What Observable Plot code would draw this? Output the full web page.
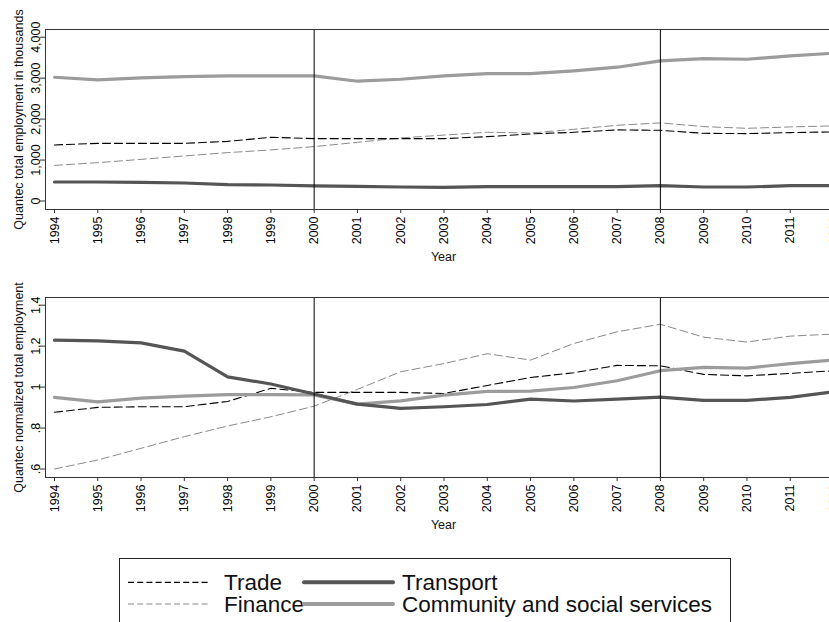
<!DOCTYPE html>
<html>
<head>
<meta charset="utf-8">
<script src="https://cdn.jsdelivr.net/npm/d3@7"></script>
<script src="https://cdn.jsdelivr.net/npm/@observablehq/plot@0.6"></script>
<style>
  html, body { margin: 0; padding: 0; background: #fff; overflow: hidden; }
  #chart { position: relative; width: 829px; height: 622px; overflow: hidden;
           font-family: "Liberation Sans", Arial, sans-serif; }
  #chart svg { position: absolute; left: 0; max-width: none; }
</style>
</head>
<body>
<div id="chart"></div>
<script>
// Years covered by the series
const years = [1994,1995,1996,1997,1998,1999,2000,2001,2002,2003,2004,2005,2006,2007,2008,2009,2010,2011,2012];

// Total employment, thousands
const tradeEmp     = [1369,1408,1408,1408,1457,1555,1523,1523,1523,1523,1572,1638,1678,1736,1726,1653,1645,1670,1687];
const financeEmp   = [870,936,1017,1100,1181,1247,1328,1433,1540,1610,1678,1660,1751,1849,1907,1817,1775,1809,1834];
const transportEmp = [464,464,456,440,399,391,367,359,342,333,350,350,350,350,374,342,342,374,374];
const communityEmp = [3022,2958,3007,3039,3056,3056,3056,2925,2973,3056,3112,3112,3178,3267,3423,3479,3462,3545,3609];

// Normalized total employment
const tradeNorm     = [0.877,0.901,0.904,0.904,0.930,0.994,0.974,0.974,0.974,0.969,1.008,1.047,1.070,1.106,1.104,1.062,1.055,1.067,1.080];
const financeNorm   = [0.600,0.644,0.701,0.758,0.810,0.855,0.907,0.989,1.075,1.115,1.163,1.132,1.213,1.270,1.307,1.244,1.220,1.249,1.259];
const transportNorm = [1.229,1.226,1.216,1.176,1.050,1.015,0.966,0.917,0.896,0.904,0.915,0.941,0.932,0.941,0.951,0.935,0.935,0.950,0.977];
const communityNorm = [0.950,0.928,0.946,0.956,0.963,0.963,0.962,0.917,0.933,0.961,0.979,0.980,0.998,1.031,1.080,1.096,1.093,1.115,1.132];

// Marked years
const breakYears = [2000, 2008];

// Axis ticks
const empTicks = [0, 1000, 2000, 3000, 4000];
const empTickLabels = ["0", "1,000", "2,000", "3,000", "4,000"];
const normTicks = [0.6, 0.8, 1, 1.2, 1.4];
const normTickLabels = [".6", ".8", "1", "1.2", "1.4"];

// Series names and line styles
const seriesStyles = {
  "Trade": {stroke: "#000000", strokeWidth: 1.1, strokeDasharray: "8,4"},
  "Finance": {stroke: "#8a8a8a", strokeWidth: 1, strokeDasharray: "8,4"},
  "Transport": {stroke: "#555555", strokeWidth: 3.2},
  "Community and social services": {stroke: "#9c9c9c", strokeWidth: 3.2}
};

const empSeries = {"Trade": tradeEmp, "Finance": financeEmp, "Transport": transportEmp, "Community and social services": communityEmp};
const normSeries = {"Trade": tradeNorm, "Finance": financeNorm, "Transport": transportNorm, "Community and social services": communityNorm};

const drawOrder = ["Finance", "Trade", "Community and social services", "Transport"];
const FONT = "'Liberation Sans', Arial, sans-serif";
const AXIS_FONT = 12.5;

function panel(seriesMap, yTicks, yLabels, yTitle) {
  const lines = drawOrder.map(name => {
    const vals = seriesMap[name];
    const rows = years.map((yr, i) => ({year: yr, value: vals[i]}));
    return Plot.lineY(rows, {x: "year", y: "value", ...seriesStyles[name], strokeLinejoin: "round"});
  });
  return Plot.plot({
    width: 850,
    height: 265,
    marginTop: 29,
    marginBottom: 56,
    marginLeft: 45,
    marginRight: 9,
    style: `font-family: ${FONT}; max-width: none; background: transparent; overflow: visible;`,
    x: {domain: [1994, 2012], insetLeft: 9, insetRight: 8},
    y: {domain: [yTicks[0], yTicks[yTicks.length - 1]], insetTop: 7.7, insetBottom: 8.5},
    marks: [
      ...lines,
      Plot.ruleX(breakYears, {stroke: "#000", strokeWidth: 1}),
      Plot.frame({stroke: "#333", strokeWidth: 1}),
      Plot.axisY({ticks: yTicks, tickFormat: (d, i) => yLabels[i], tickSize: 5, tickPadding: 1,
                  tickRotate: -90, fontSize: AXIS_FONT, fontFamily: FONT, label: null, stroke: "#333"}),
      Plot.axisX({ticks: years, tickFormat: d => String(d), tickSize: 4, tickPadding: 3,
                  tickRotate: -90, fontSize: AXIS_FONT, fontFamily: FONT, label: null, stroke: "#333"}),
      Plot.text([yTitle], {text: d => d, frameAnchor: "left", rotate: -90, dx: -27,
                           textAnchor: "middle", lineAnchor: "middle",
                           fontSize: AXIS_FONT, fontFamily: FONT, fill: "#111"}),
      Plot.text(["Year"], {text: d => d, frameAnchor: "bottom", dy: 47, lineAnchor: "middle",
                           fontSize: AXIS_FONT, fontFamily: FONT, fill: "#111"})
    ]
  });
}

const root = document.getElementById("chart");
const topPanel = panel(empSeries, empTicks, empTickLabels, "Quantec total employment in thousands");
topPanel.style.top = "0px";
root.appendChild(topPanel);
const bottomPanel = panel(normSeries, normTicks, normTickLabels, "Quantec normalized total employment");
bottomPanel.style.top = "268.3px";
root.appendChild(bottomPanel);

// Legend box below the panels
const legendRows = [["Trade", "Transport"], ["Finance", "Community and social services"]];
const legendSvg = d3.select(root).append("svg")
  .attr("width", 829).attr("height", 622)
  .style("top", "0px")
  .style("font-family", FONT);
legendSvg.append("rect")
  .attr("x", 119.5).attr("y", 558.5).attr("width", 611).attr("height", 80)
  .attr("fill", "#fff").attr("stroke", "#222").attr("stroke-width", 1);
const colX = [{x1: 128, x2: 210, tx: 224}, {x1: 304, x2: 393, tx: 402}];
legendRows.forEach((row, r) => {
  const cy = 582.3 + r * 21.7;
  row.forEach((name, c) => {
    const st = seriesStyles[name];
    const thick = st.strokeWidth > 2;
    legendSvg.append("line")
      .attr("x1", colX[c].x1).attr("x2", colX[c].x2).attr("y1", cy).attr("y2", cy)
      .attr("stroke", st.stroke)
      .attr("stroke-width", thick ? 4 : 1.2)
      .attr("stroke-linecap", thick ? "round" : "butt")
      .attr("stroke-dasharray", thick ? null : "6,3.2");
    legendSvg.append("text")
      .attr("x", colX[c].tx).attr("y", cy + 7.6)
      .attr("font-size", 22.5).attr("fill", "#111")
      .text(name);
  });
});
</script>
</body>
</html>
